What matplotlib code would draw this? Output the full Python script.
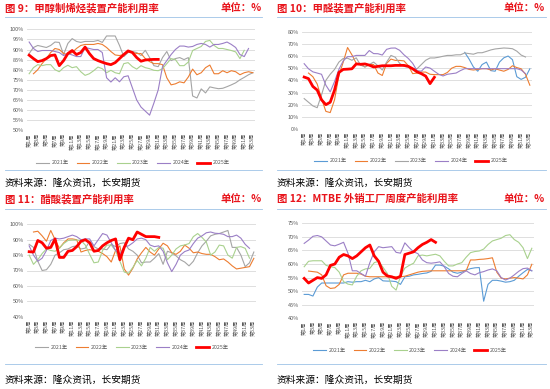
import matplotlib
matplotlib.use('Agg')
import matplotlib.pyplot as plt
import numpy as np

plt.rcParams['font.family'] = ['Noto Sans CJK SC', 'DejaVu Sans']

# 周次和标签
weeks = np.arange(1, 54)
week_labels = ['第%d周' % w for w in range(1, 54, 2)]
years = ['2021年', '2022年', '2023年', '2024年', '2025年']

# 图9 甲醇制烯烃装置产能利用率 (%)
c9_2021 = [88, 91, 92, 91.5, 91, 92, 93.7, 93.5, 87.5, 93, 95.4, 94, 93.5, 94, 94, 94, 94.5, 93.5, 96.7, 96.7,
           96.7, 92, 86.5, 88.5, 89, 88.5, 87, 89.6, 86, 82, 81.5, 86, 89, 84.5, 85.5, 86, 85, 86, 67, 66,
           70.5, 68.5, 71.5, 71, 70.6, 70.8, 71.6, 72.5, 73.5, 75, 76.2, 77.5, 78.5]
c9_2022 = [None, 78, 80, 83, 85.5, 88.5, 90.5, 90, 88, 87.5, 88.5, 90.5, 92, 92.5, 92.5, 92.5, 93, 92.5, 91, 89,
           87.3, 87, 87.5, 88.8, 88.5, 88, 88, 85.5, 84, 83, 83, 82.5, 76, 72.5, 73, 74, 73.5, 76.4, 80.3, 77.5,
           78.5, 81, 82.3, 78, 78, 79.5, 78.5, 79.5, 79, 77.5, 78.5, 79, 78.5]
c9_2023 = [78, 81, 82.5, 82, 82.5, 82.5, 80, 79, 81, 82.2, 81, 81.5, 79, 77.2, 78, 79.5, 81.3, 80.5, 78.5, 79.7,
           78.5, 78, 83, 83.5, 81.5, 80.3, 82, 81, 80.5, 79.7, 79.5, 80.5, 83, 85.5, 85, 82, 82, 83.8, 89.5, 90.5,
           91.5, 94, 94.5, 92, 90.5, 90.5, 90, 89.5, 88.8, 85.5, 89.6, None, None]
c9_2024 = [93.7, 90.5, 89, 89.5, 89.5, 89.5, 89, 88.5, 87, 88, 87.3, 86.5, 86.5, 91, 90.5, 90, 90, 88.5, 76, 73.9,
           76, 74, 76.5, 77, 71, 65, 61.5, 59.5, 57.5, 63.5, 70, 81.5, 84.5, 87.5, 90, 91.7, 91.7, 91.2, 91.5, 92.5,
           93, 92.5, 91.2, 92.5, 92.5, 93, 93.7, 92.5, 91, 87.5, 86.5, 90.5, None]
c9_2025 = [87.2, 85.5, 84, 84.5, 85.5, 87, 87.3, 82, 84.5, 88, 89.5, 87.5, 88.5, 91.2, 88, 85.5, 84.5, 83.7, 83, 82.5,
           83.5, 85.5, 87.5, 89.3, 88.5, 86, 84.2, 84.8, 85, 85.1, 85.1] + [None] * 22

# 图10 甲醛装置产能利用率 (%)
c10_2021 = [None] * 37 + [63, 57.5, 51, 47.5, 53, 55, 48, 47.5, 55, 58.5, 60, 57, 43, 40.8, 42.5, 49.5]
c10_2022 = [None, 46, 43, 37, 25, 14.5, 13.5, 24, 44, 55, 67, 61, 54, 53.5, 51, 53, 53, 46, 44, 54,
            57.5, 56.4, 56.4, 56, 52, 45.5, 46, 46.8, 46.8, 45, 44.7, 44.7, 44.7, 46.5, 50, 51.5, 51.5, 50.5, 49, 48.5,
            49, 49.6, 49.6, 48.5, 49.5, 48.5, 47.5, 49, 52, 50.5, 49.5, 45, 36]
c10_2023 = [25, 22, 19, 17.5, 28, 40, 45, 49, 55, 58, 58.2, 56.5, 58.5, 52.5, 51, 53, 55, 52, 48.5, 55,
            60.5, 59, 54, 51.5, 51, 49.8, 49.5, 53, 56.5, 58.4, 58.4, 59, 59.8, 60.5, 60.5, 61, 61, 62.5, 62, 61.5,
            62.7, 62.7, 63.8, 65, 65.8, 66.2, 66.6, 66.4, 66, 64, 60.8, 59.2, None]
c10_2024 = [53.7, 49.5, 47, 46, 45, 36, 30.5, 39, 49, 56, 59.5, 59.5, 60.5, 60.5, 60.5, 64.5, 62, 61.9, 60.8, 65.5,
            66.5, 66.6, 64.7, 61, 58, 54, 48, 47.5, 51, 50.1, 47.5, 45, 43.6, 45, 45.5, 46, 48] + [49.6] * 13 + [48.5, 45.5, None]
c10_2025 = [42.7, 41.4, 35, 32, 24, 20, 22, 32, 46.5, 49, 49.2, 49.5, 53.5, 53.2, 53.5, 52.5, 51, 51.5, 52, 52,
            52, 52.3, 52.3, 52.3, 51.5, 49.5, 47, 45.5, 43.5, 37.3, 42.5] + [None] * 22

# 图11 醋酸装置产能利用率 (%)
c11_2021 = [87, 85, 76, 70, 70.5, 74, 80, 81.5, 83.5, 84, 85.5, 86, 84, 84.5, 89, 85.5, 84, 84, 83.5, 87,
            85.5, 87.5, 88, 84, 82.5, 80, 75, 75.5, 75.5, 78, 81, 74, 82.5, 81.5, 79.5, 77, 75.5, 73, 76, 81.5,
            86, 89, 92.5, 93.5, 94, 95, 96, 85, 85, 80, 72.5, 75, 82]
c11_2022 = [None, 95, 95.5, 92.5, 89, 96, 90, 84.5, 88, 90.5, 90.5, 90, 82, 83, 83.5, 83, 82.5, 81, 79, 75.5,
            83, 86, 71, 67, 71.5, 77.5, 81.5, 85, 82, 80, 84, 87.7, 86, 81.5, 80.5, 82.5, 86.5, 84.5, 81.5, 82,
            81, 80.5, 80.5, 79, 77, 77.5, 75.5, 73, 71, 71.5, 72, 72.5, 77.9]
c11_2023 = [80, 74, 77, 81, 84, 83, 82.5, 84.5, 87.5, 89.5, 89.8, 89.8, 89.5, 86.5, 80.5, 75, 75.5, 83, 86.5, 86.5,
            83, 76, 69, 68.2, 72, 76.5, 73, 78, 85, 82.5, 85, 84.5, 77, 80, 84, 86, 86.6, 87.5, 92, 94,
            91.5, 88.5, 80, 82, 86.5, 86, 80, 78, 85, 85.5, 84.4, 78, None]
c11_2024 = [86, 80, 76, 78, 83, 89.5, 91, 90.5, 91, 92, 93, 92, 90, 90.5, 90.5, 86, 90, 94, 93, 88,
            83, 80.5, 85.5, 86, 88, 90.5, 91, 90, 86.5, 85.5, 86, 82.5, 75, 69.3, 74, 80, 82.3, 83.3, 87.5, 91,
            92.5, 94.5, 95, 94.2, 94, 93.5, 92, 92, 93, 91, 87, 84.4, None]
c11_2025 = [82.2, 82, 89.5, 88, 84.5, 85, 90.5, 78.5, 78.5, 82.5, 83, 85.5, 89, 90, 88, 82.5, 83, 86, 88, 89.5,
            90.5, 77, 85, 91, 90, 95, 93.5, 92, 92, 92, 91.5] + [None] * 22

# 图12 MTBE外销工厂周度产能利用率 (%)
c12_2021 = [48.8, 48.8, 48.2, 51.5, 53, 53, 53, 53, 53, 53, 53.5, 53.3, 53.5, 53.5, 54, 53.5, 54.5, 55, 53.8, 53.7,
            53.7, 53.5, 52.5, 55.3, 55.5, 56, 56.2, 56.5, 56.7, 57.3, 59.6, 59.6, 59.2, 58.2, 57, 56.6, 57, 57.8, 58.3, 58.6,
            58.7, 46.3, 52.5, 54, 54, 53.7, 53.3, 53.5, 54, 55.5, 56.8, 58, 57.5]
c12_2022 = ([None, 57.4, 57.2, 57, 56, 52, 51, 51.2, 52.5, 56, 56.6, 56.6, 56.6, 56.3, 55.5] + [55.3] * 8 +
            [55.5, 56, 56.5, 57, 57.3, 57.4] + [57.5] * 9 +
            [61.5, 61.5, 61.7, 61.8, 62, 62.3, 57, 54.8, 54.5, 54.8, 55, 54.8, 54.5, 56, 59.9])
c12_2023 = [59, 61, 61.2, 61.2, 61.2, 59.5, 59, 58.7, 57, 53.5, 52.6, 52.3, 55.5, 57.5, 58.2, 58.4, 60.5, 61, 58.8, 56.5,
            51.8, 50.4, 55.5, 58.5, 59.5, 60.3, 63, 63.3, 63, 63.3, 63.6, 63, 61, 59.3, 59.3, 60, 60.5, 62.5, 64.2, 64.6,
            64.8, 65.5, 67.2, 68.5, 69, 69.5, 70.5, 70.8, 69, 68, 66, 62, 65.8]
c12_2024 = [67.6, 68.8, 70.2, 70.5, 70, 68.5, 67, 66.7, 67.3, 68, 64, 57.5, 57.5, 56.5, 55.5, 60.5, 64.5, 66.4, 66, 66.2,
            66.4, 64.3, 64, 67.8, 66, 64.5, 63.8, 61.5, 60.5, 60.3, 60.5, 60.8, 59, 56.5, 55.5, 55.3, 56.5, 57.5, 56.5, 56,
            56.8, 57.2, 57.8, 58.2, 57.5, 55, 54.1, 54.8, 56, 57.3, 58.3, 58.5, 57.5]
c12_2025 = [54.7, 53, 54, 55, 54.7, 56, 59.5, 60, 62.5, 63.5, 63, 62, 63, 64.5, 66, 67, 63, 61, 57, 55.6,
            55.3, 54.7, 55.5, 63.5, 64, 64.5, 66, 67.2, 68, 69, 68] + [None] * 22

# 颜色
GRAY = '#a5a5a5'
ORANGE = '#ed7d31'
GREEN = '#a9d18e'
PURPLE = '#9b7fc6'
BLUE = '#5b9bd5'
RED = '#ff0000'
TITLE_RED = '#e8141b'
LINE_BLUE = '#9dc3e6'
TXT = '#595959'

W, H = 550, 389
fig = plt.figure(figsize=(W / 100, H / 100), dpi=100)


def fx(px):
    return px / W


def fy(py):
    return 1 - py / H


def draw_panel(rect, series, colors, ylim, ystep, legend_xy):
    ax = fig.add_axes(rect)
    lines = []
    for i, (vals, c) in enumerate(zip(series, colors)):
        y = np.array(vals, dtype=float)
        if i == 4:
            ln, = ax.plot(weeks, y, color=c, lw=2.0, zorder=5)
        else:
            ln, = ax.plot(weeks, y, color=c, lw=0.8, zorder=3)
        lines.append(ln)
    ax.set_xlim(0.5, 53.5)
    ax.set_ylim(*ylim)
    yt = np.arange(ylim[0], ylim[1] + 0.1, ystep)
    ax.set_yticks(yt)
    ax.set_yticklabels(['%d%%' % v for v in yt], fontsize=4, color=TXT)
    ax.set_xticks(range(1, 54, 2))
    ax.set_xticklabels(week_labels, rotation=90, fontsize=3.8, color=TXT)
    ax.tick_params(length=0, pad=2)
    ax.grid(axis='y', color='#d9d9d9', lw=0.6)
    ax.set_axisbelow(True)
    for s in ax.spines.values():
        s.set_visible(False)
    fig.legend(lines, years, loc='center', bbox_to_anchor=legend_xy, ncol=5, frameon=False,
               fontsize=3.8, handlelength=2.4, handletextpad=0.5, columnspacing=1.5, labelcolor=TXT)
    return ax


# 四个子图
draw_panel([fx(27), fy(130.3), fx(228), 101 / H],
           [c9_2021, c9_2022, c9_2023, c9_2024, c9_2025],
           [GRAY, ORANGE, GREEN, PURPLE, RED], (50, 100), 5, (fx(133), fy(163)))
draw_panel([fx(302), fy(129), fx(230), 97.3 / H],
           [c10_2021, c10_2022, c10_2023, c10_2024, c10_2025],
           [BLUE, ORANGE, GRAY, PURPLE, RED], (0, 80), 10, (fx(411), fy(161)))
draw_panel([fx(27), fy(316.7), fx(229), 92.4 / H],
           [c11_2021, c11_2022, c11_2023, c11_2024, c11_2025],
           [GRAY, ORANGE, GREEN, PURPLE, RED], (40, 100), 10, (fx(132), fy(347.5)))
draw_panel([fx(302), fy(318.3), fx(232), 95 / H],
           [c12_2021, c12_2022, c12_2023, c12_2024, c12_2025],
           [BLUE, ORANGE, GREEN, PURPLE, RED], (40, 75), 5, (fx(410), fy(350)))

# 标题、单位、来源和分隔线
titles = ['图 9：甲醇制烯烃装置产能利用率', '图 10：甲醛装置产能利用率',
          '图 11：醋酸装置产能利用率', '图 12：MTBE 外销工厂周度产能利用率']
title_pos = [(5, 8), (277, 8), (5, 199), (277, 199)]
unit_x = [262, 545, 262, 545]
top_line_y = [17, 17, 209, 209]
bottom_line_y = [170, 170, 364, 364]
source_y = [183, 183, 380, 380]
for k in range(4):
    x0, y0 = title_pos[k]
    fig.text(fx(x0), fy(y0), titles[k], color=TITLE_RED, fontsize=7.5, fontweight='bold', va='center', ha='left')
    fig.text(fx(unit_x[k]), fy(y0), '单位：%', color=TITLE_RED, fontsize=7.5, fontweight='bold', va='center', ha='right')
    x1 = 262 if k % 2 == 0 else 546
    fig.add_artist(plt.Line2D([fx(x0), fx(x1)], [fy(top_line_y[k]), fy(top_line_y[k])], color=LINE_BLUE, lw=0.6))
    fig.add_artist(plt.Line2D([fx(x0), fx(x1)], [fy(bottom_line_y[k]), fy(bottom_line_y[k])], color=LINE_BLUE, lw=0.6))
    fig.text(fx(x0), fy(source_y[k]), '资料来源：隆众资讯，长安期货', color='black', fontsize=7, va='center', ha='left')

fig.savefig('out.png', dpi=100)
